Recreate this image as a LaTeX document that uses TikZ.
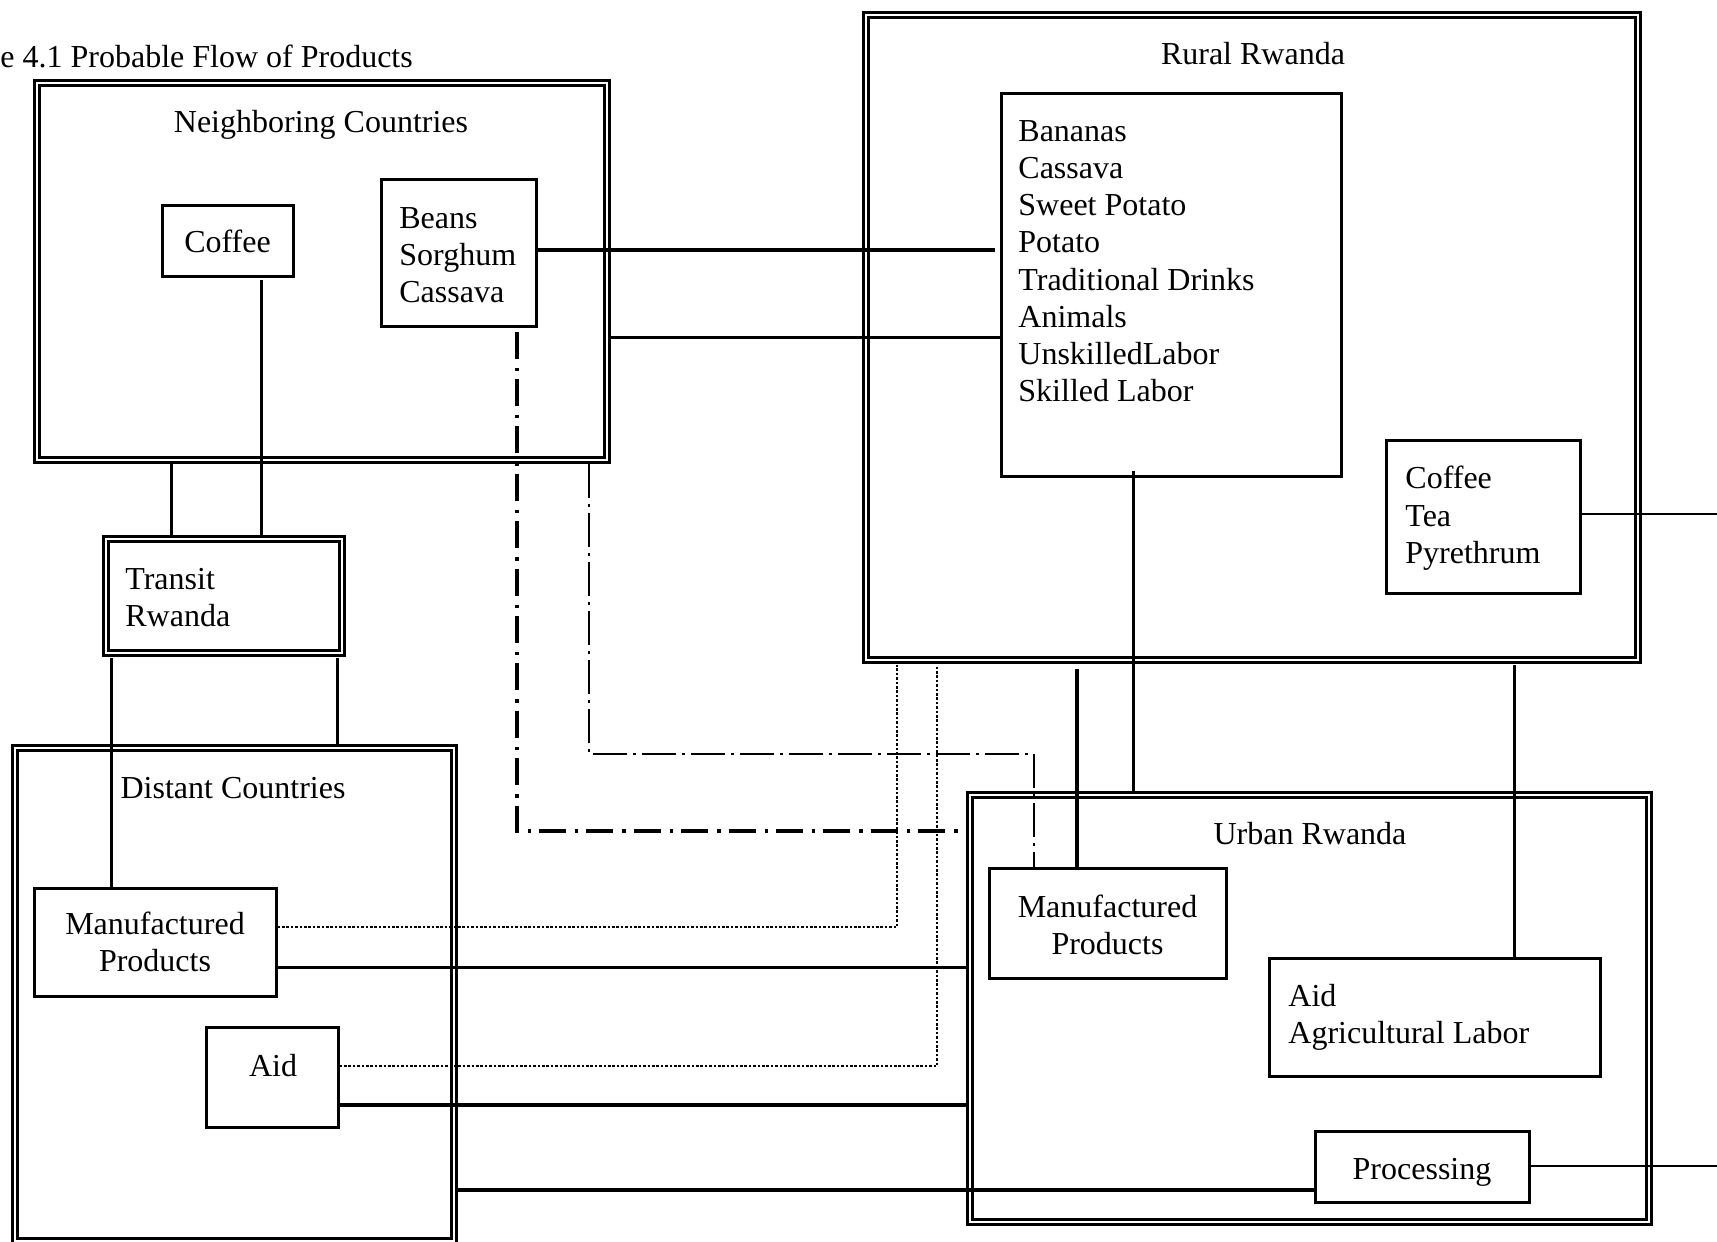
\documentclass[tikz,border=0pt]{standalone}
\usepackage{fontspec}
\setmainfont{Liberation Serif}
\usetikzlibrary{fit}
\begin{document}
\begin{tikzpicture}[x=0.5pt,y=-0.5pt,
  font=\fontsize{16}{18.6}\selectfont,
  box/.style={draw, line width=1.5pt, inner sep=0pt},
  dbox/.style={draw, line width=1.4pt, double, double distance=1.1pt, inner sep=0pt},
  txt/.style={inner sep=0pt, align=center, text depth=0pt},
  lbl/.style={inner sep=0pt, anchor=base},
  lst/.style={inner sep=0pt, align=left, anchor=north west},
  lnthick/.style={line width=2pt},
  lnmed/.style={line width=1.5pt},
  lnthin/.style={line width=0.8pt},
  ddthick/.style={line width=1.8pt, dash pattern=on 13.5pt off 4.5pt on 1.7pt off 4pt},
  ddthin/.style={line width=1pt, dash pattern=on 17pt off 3pt on 1.5pt off 3pt},
  dotln/.style={line width=1pt, dash pattern=on 1.3pt off 0.9pt}]
\useasboundingbox (0,0) rectangle (1717,1241);
\clip (0,0) rectangle (1717,1241);

% title
\node[lbl, anchor=base west] (title) at (0,68) {e 4.1 Probable Flow of Products};

% Neighboring Countries
\node[dbox, fit={(37,83) (607,460)}] (neigh) {};
\node[lbl] (neighlbl) at (321,133) {Neighboring Countries};
\node[box, fit={(162,206) (293,276)}] (coffee) {};
\node[txt] (coffeetxt) at (coffee.center) {Coffee};
\node[box, fit={(381,180) (536,326)}] (beans) {};
\node[lst] (beanstxt) at (399,207) {Beans\\Sorghum\\Cassava};

% Rural Rwanda
\node[dbox, fit={(866,15) (1638,660)}] (rural) {};
\node[lbl] (rurallbl) at (1253,65) {Rural Rwanda};
\node[box, fit={(1001,94) (1341,476)}] (bananas) {};
\node[lst] (bananastxt) at (1018,120) {Bananas\\Cassava\\Sweet Potato\\Potato\\Traditional Drinks\\Animals\\UnskilledLabor\\Skilled Labor};
\node[box, fit={(1386,440) (1580,593)}] (ctp) {};
\node[lst] (ctptxt) at (1405,466) {Coffee\\Tea\\Pyrethrum};

% Transit Rwanda
\node[dbox, fit={(106,539) (342,653)}] (transit) {};
\node[lst] (transittxt) at (125,568) {Transit\\Rwanda};

% Distant Countries
\node[dbox, fit={(15,748) (454,1241)}] (distant) {};
\node[lbl] (distantlbl) at (233,798) {Distant Countries};
\node[box, fit={(34,888) (276,996)}] (distmp) {};
\node[txt] (distmptxt) at (distmp.center) {Manufactured\\Products};
\node[box, fit={(206,1027) (338,1127)}] (aid) {};
\node[lbl] (aidtxt) at (273,1076) {Aid};

% Urban Rwanda
\node[dbox, fit={(970,795) (1649,1222)}] (urban) {};
\node[lbl] (urbanlbl) at (1310,844) {Urban Rwanda};
\node[box, fit={(989,868) (1226,978)}] (urbmp) {};
\node[txt] (urbmptxt) at ([yshift=-1pt]urbmp.center) {Manufactured\\Products};
\node[box, fit={(1269,958) (1600,1076)}] (aidag) {};
\node[lst] (aidagtxt) at (1288,984) {Aid\\Agricultural Labor};
\node[box, fit={(1315,1131) (1529,1202)}] (proc) {};
\node[txt] (proctxt) at ([yshift=-1pt]proc.center) {Processing};

% helper coordinates
\coordinate (y250) at (0,250);
\coordinate (y337) at (0,337);
\coordinate (x261) at (261,0);
\coordinate (x171) at (171,0);
\coordinate (x111) at (111,0);
\coordinate (x337) at (337,0);
\coordinate (x517) at (517,0);
\coordinate (y831) at (0,831);
\coordinate (x589) at (589,0);
\coordinate (y754) at (0,754);
\coordinate (x1034) at (1034,0);
\coordinate (y927) at (0,927);
\coordinate (x897) at (897,0);
\coordinate (y1066) at (0,1066);
\coordinate (x937) at (937,0);
\coordinate (y967) at (0,967);
\coordinate (y1105) at (0,1105);
\coordinate (y1190) at (0,1190);
\coordinate (x1077) at (1077,0);
\coordinate (x1133) at (1133,0);
\coordinate (x1514) at (1514,0);
\coordinate (r1) at (1717,514);
\coordinate (r2) at (1717,1166);

% connectors
\draw[lnthick] (beans.east |- y250) -- ([xshift=-2.5pt]bananas.west |- y250);
\draw[lnmed] (neigh.east |- y337) -- (bananas.west |- y337);
\draw[lnmed] ([yshift=-1pt]x261 |- coffee.south) -- (x261 |- transit.north);
\draw[lnmed] (x171 |- neigh.south) -- (x171 |- transit.north);
\draw[lnmed] ([yshift=-2pt]x111 |- transit.south) -- (x111 |- distmp.north);
\draw[lnmed] ([yshift=-2pt]x337 |- transit.south) -- (x337 |- distant.north);
\draw[ddthick] ([yshift=-2pt]x517 |- beans.south) -- (x517 |- y831) -- (urban.west |- y831);
\draw[ddthin] ([yshift=-1.5pt]x589 |- neigh.south) -- (x589 |- y754) -- (x1034 |- y754) -- (x1034 |- urbmp.north);
\draw[dotln] (distmp.east |- y927) -- (x897 |- y927) -- ([yshift=-2pt]x897 |- rural.south);
\draw[dotln] (aid.east |- y1066) -- (x937 |- y1066) -- ([yshift=-2pt]x937 |- rural.south);
\draw[lnmed] (distmp.east |- y967) -- (urban.west |- y967);
\draw[lnthick] (aid.east |- y1105) -- (urban.west |- y1105);
\draw[lnthick] (distant.east |- y1190) -- (proc.west |- y1190);
\draw[lnthick] ([yshift=-4pt]x1077 |- rural.south) -- (x1077 |- urbmp.north);
\draw[lnmed] ([yshift=3.5pt]x1133 |- bananas.south) -- (x1133 |- urban.north);
\draw[lnmed] ([yshift=-2pt]x1514 |- rural.south) -- (x1514 |- aidag.north);
\draw[lnthin] (ctp.east |- r1) -- (r1);
\draw[lnthin] (proc.east |- r2) -- (r2);
\end{tikzpicture}
\end{document}
